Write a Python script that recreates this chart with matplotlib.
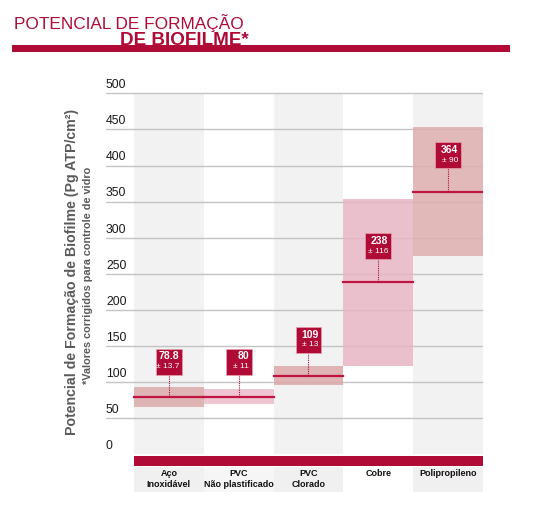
import matplotlib
matplotlib.use("Agg")
import matplotlib.pyplot as plt
from matplotlib.patches import Rectangle

plt.rcParams['font.family'] = ['Liberation Sans', 'DejaVu Sans']

# data
materials = ['Aço\nInoxidável', 'PVC\nNão plastificado', 'PVC\nClorado', 'Cobre', 'Polipropileno']
means = [78.8, 80, 109, 238, 364]
errors = [13.7, 11, 13, 116, 90]
mean_labels = ['78.8', '80', '109', '238', '364']
err_labels = ['± 13.7', '± 11', '± 13', '± 116', '± 90']
yticks = [0, 50, 100, 150, 200, 250, 300, 350, 400, 450, 500]

# layout / style
box_y = [128, 128, 158, 288, 414]          # centre of the value boxes
band_colors = ['#dba9a9', '#ebbccb', '#dba9a9', '#e8b5c5', '#dfafaf']
col_bg = ['#f2f2f2', 'white', '#f2f2f2', 'white', '#f2f2f2']
lab_bg = ['#f0f0f0', '#f6f6f6', '#f0f0f0', 'white', '#f0f0f0']
crimson = '#b00a36'
W, H = 550, 505

fig = plt.figure(figsize=(W / 100, H / 100), dpi=100)

# axes from px 106..483 (x) and 79..492 (y)
ax = fig.add_axes([106 / W, 1 - 491.8 / H, (483 - 106) / W, (491.8 - 78.9) / H])
ax.set_xlim(-0.4, 5)
ax.set_ylim(-52, 520)
ax.axis('off')

for i in range(len(materials)):
    ax.add_patch(Rectangle((i, 0), 1, 500, color=col_bg[i], zorder=0, lw=0))
    ax.add_patch(Rectangle((i, -52), 1, 35, color=lab_bg[i], zorder=0, lw=0))

for v in yticks[1:]:
    ax.plot([-0.4, 5], [v, v], color='#c4c4c4', lw=1.0, zorder=1)
for v in yticks:
    ax.text(-0.4, v + 3, str(v), ha='left', va='bottom', fontsize=8.8, color='#1a1a1a')

for i in range(len(materials)):
    ax.add_patch(Rectangle((i, means[i] - errors[i]), 1, 2 * errors[i],
                           color=band_colors[i], alpha=0.85, zorder=2, lw=0))
    ax.plot([i, i + 1], [means[i], means[i]], color='#c01443', lw=1.6, zorder=3)
    cx = i + 0.5
    bw, bh = 0.37, 36
    ax.plot([cx, cx], [means[i], box_y[i] - bh / 2], color=crimson, lw=0.8,
            ls=(0, (1, 1)), zorder=3)
    ax.add_patch(Rectangle((cx - bw / 2, box_y[i] - bh / 2), bw, bh,
                           facecolor=crimson, edgecolor='#e8a0b0', lw=0.5, zorder=4))
    ax.text(cx + bw / 2 - 0.04, box_y[i] + 7.5, mean_labels[i], ha='right', va='center',
            fontsize=7.5, fontweight='bold', color='white', zorder=5)
    ax.text(cx + bw / 2 - 0.04, box_y[i] - 6.5, err_labels[i], ha='right', va='center',
            fontsize=6, color='white', zorder=5)
    ax.text(cx, -21, materials[i], ha='center', va='top', fontsize=6.5,
            fontweight='bold', color='#111111', linespacing=1.25, zorder=5)

ax.add_patch(Rectangle((0, -16.5), 5, 14.5, color=crimson, lw=0, zorder=4))

# y labels
fig.text(72 / W, 1 - 272 / H, 'Potencial de Formação de Biofilme (Pg ATP/cm²)',
         rotation=90, ha='center', va='center', fontsize=10.2, fontweight='bold',
         color='#5a5a5a')
fig.text(88 / W, 1 - 275 / H, '*Valores corrigidos para controle de vidro',
         rotation=90, ha='center', va='center', fontsize=7.8, fontweight='bold',
         color='#5a5a5a')

# title
fig.text(14 / W, 1 - 28.5 / H, 'POTENCIAL DE FORMAÇÃO', ha='left', va='baseline',
         fontsize=12.4, color=crimson)
fig.text(120 / W, 1 - 44.8 / H, 'DE BIOFILME*', ha='left', va='baseline',
         fontsize=13.6, fontweight='bold', color=crimson)
fig.add_artist(Rectangle((12 / W, 1 - 52 / H), (510 - 12) / W, 7.3 / H,
                         transform=fig.transFigure, color=crimson, lw=0, zorder=10))

fig.savefig('out.png', dpi=100)
